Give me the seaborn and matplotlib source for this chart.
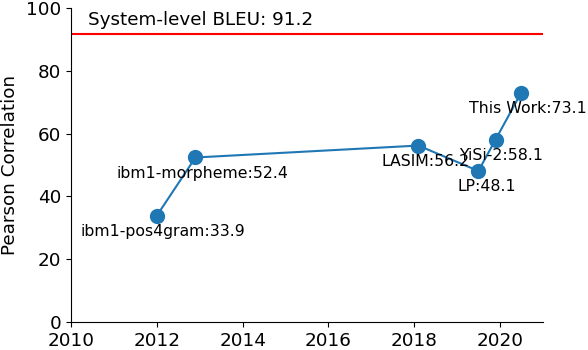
import pandas as pd
import matplotlib
matplotlib.use("Agg")
import matplotlib.pyplot as plt
import seaborn as sns

# values
years = [2012.0, 2012.9, 2018.1, 2019.5, 2019.9, 2020.5]
pearson = [33.9, 52.4, 56.2, 48.1, 58.1, 73.1]
names = ["ibm1-pos4gram", "ibm1-morpheme", "LASIM", "LP", "YiSi-2", "This Work"]
bleu = 91.2
bleu_line = 91.8

# where each label sits relative to its point (years, correlation units)
label_dx = [-1.78, -1.84, -0.86, -0.49, -0.84, -1.23]
label_dy = -5.0

plt.rcParams["font.size"] = 12
df = pd.DataFrame({"Year": years, "Pearson Correlation": pearson, "Name": names})

fig, ax = plt.subplots(figsize=(5.88, 3.5), dpi=100)
sns.lineplot(x="Year", y="Pearson Correlation", data=df, marker="o",
             markersize=11, color="#1f77b4", linewidth=1.5,
             markeredgewidth=0, ax=ax)

for x, y, n, dx in zip(years, pearson, names, label_dx):
    ax.text(x + dx, y + label_dy, f"{n}:{y}", va="center", ha="left", fontsize=11.3)

ax.axhline(bleu_line, color="red", linewidth=1.5)
ax.text(2010.4, 96.2, f"System-level BLEU: {bleu}", va="center", ha="left", fontsize=13.2)

ax.set_xlim(2010, 2021)
ax.set_ylim(0, 100)
ax.set_xticks([2010, 2012, 2014, 2016, 2018, 2020])
ax.set_yticks([0, 20, 40, 60, 80, 100])
ax.tick_params(labelsize=13.2)
ax.set_xlabel("")
ax.set_ylabel("Pearson Correlation", fontsize=13.2, labelpad=5)
sns.despine(ax=ax)

fig.subplots_adjust(left=0.121, right=0.923, bottom=0.08, top=0.977)
fig.savefig("out.png", dpi=100)
